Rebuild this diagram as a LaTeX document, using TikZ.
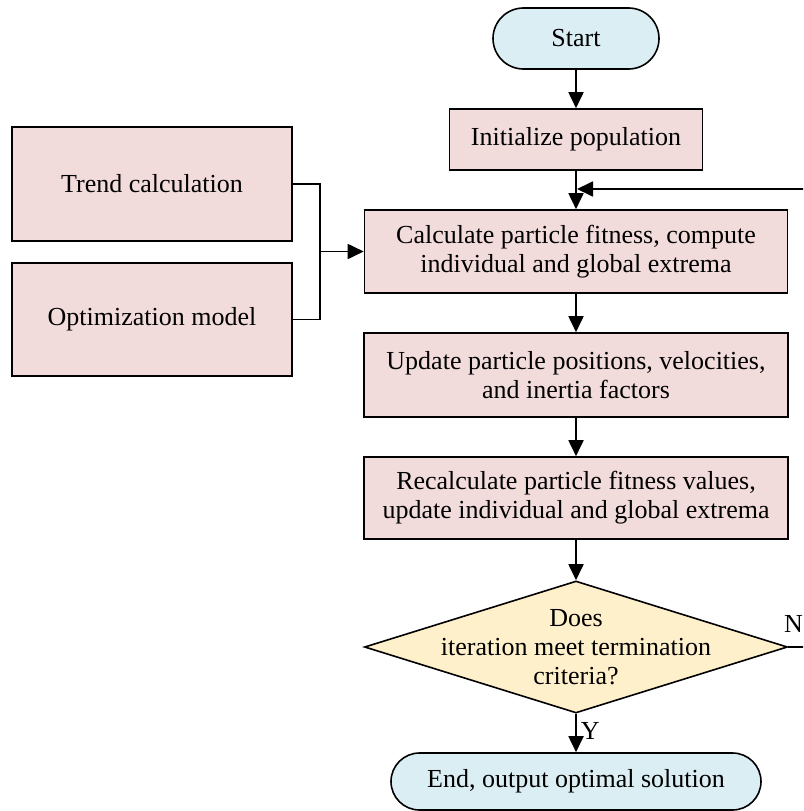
\documentclass[tikz,border=0pt]{standalone}
\usepackage{fontspec}
\setmainfont{Liberation Serif}
\usetikzlibrary{shapes.geometric,shapes.misc,arrows.meta}
\definecolor{boxpink}{HTML}{F2DCDB}
\definecolor{termblue}{HTML}{DAEEF3}
\definecolor{decyellow}{HTML}{FFF0CC}
\begin{document}
\begin{tikzpicture}[x=1pt,y=1pt,
  font=\fontsize{26}{29}\selectfont,
  procbox/.style={draw=black,line width=1.6pt,fill=boxpink,rectangle,inner sep=0pt,align=center},
  termbox/.style={draw=black,line width=1.6pt,fill=termblue,rounded rectangle,inner sep=0pt,align=center},
  decbox/.style={draw=black,line width=1.6pt,fill=decyellow,diamond,inner sep=0pt},
  arr/.style={line width=1.8pt,-{Triangle[length=16pt,width=15pt]}},
  conn/.style={line width=1.6pt}]
\useasboundingbox (0,0) rectangle (803,-811);
\clip (0,0) rectangle (803,-811);
\node[termbox,minimum width=166pt,minimum height=61pt] (start) at (576,-38.5) {Start};
\node[procbox,minimum width=253pt,minimum height=61pt] (init) at (576,-139.5) {Initialize population};
\node[procbox,minimum width=423pt,minimum height=83pt] (calc) at (576,-251.5) {Calculate particle fitness, compute\\individual and global extrema};
\node[procbox,minimum width=424pt,minimum height=84pt] (upd) at (576,-375) {Update particle positions, velocities,\\and inertia factors};
\node[procbox,minimum width=424pt,minimum height=82pt] (recalc) at (576,-498) {Recalculate particle fitness values,\\update individual and global extrema};
\node[decbox,minimum width=423pt,minimum height=132pt] (dia) at (576,-647) {};
\node[align=center,inner sep=0pt] (diatext) at (dia.center) {Does\\iteration meet termination\\criteria?};
\node[termbox,minimum width=370pt,minimum height=57pt] (end) at (576,-781.5) {End, output optimal solution};
\node[procbox,minimum width=280pt,minimum height=114pt] (trend) at (152,-184) {Trend calculation};
\node[procbox,minimum width=280pt,minimum height=113pt] (opt) at (152,-319.5) {Optimization model};
% connectors
\draw[arr] (start) -- (init);
\draw[arr] (init) -- (calc);
\draw[arr] (calc) -- (upd);
\draw[arr] (upd) -- (recalc);
\draw[arr] (recalc) -- (dia);
\draw[arr] (dia) -- (end) node[pos=0.45,right,inner sep=4pt] (ylab) {Y};
\coordinate (join) at (320,-251.5);
\draw[conn] (trend.east) -| (join);
\draw[conn] (opt.east) -| (join);
\draw[arr] (join) -- (calc.west);
\coordinate (nright) at (830,-647);
\coordinate (merge) at (577,-189);
\draw[arr] (dia.east) -- (nright) |- (merge);
\node[anchor=base west,inner sep=0pt] (nlab) at (784,-632) {N};
\end{tikzpicture}
\end{document}
